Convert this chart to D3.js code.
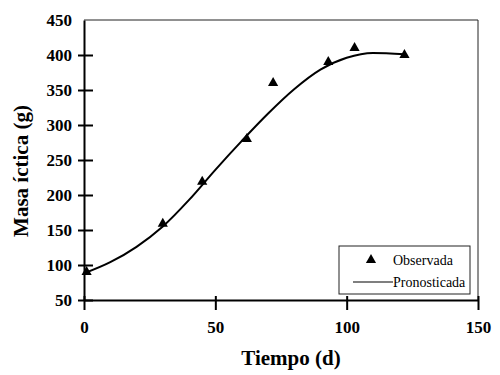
<!DOCTYPE html>
<html>
<head>
<meta charset="utf-8">
<script src="https://cdn.jsdelivr.net/npm/d3@7"></script>
<style>
  body { margin: 0; background: #fff; }
  svg { display: block; }
</style>
</head>
<body>
<div id="chart"></div>
<script>
// observed fish mass (Observada)
const obsDays = [1, 30, 45, 62, 72, 93, 103, 122];
const obsMass = [90, 159, 219, 280, 360, 390, 410, 400];

// predicted curve (Pronosticada)
const predDays = [0, 10, 20, 30, 40, 50, 60, 70, 80, 90, 100, 110, 122];
const predMass = [88, 104, 126, 155, 193, 236, 277, 316, 351, 379, 396, 403, 401];

const xTicks = [0, 50, 100, 150];
const yTicks = [50, 100, 150, 200, 250, 300, 350, 400, 450];

const W = 500, H = 375;
const plot = {left: 84, right: 478, top: 20, bottom: 300};

const svg = d3.select('#chart').append('svg')
    .attr('width', W)
    .attr('height', H);

const x = d3.scaleLinear().domain([0, 150]).range([plot.left, plot.right]);
const y = d3.scaleLinear().domain([50, 450]).range([plot.bottom, plot.top]);

const serif = '"Liberation Serif", "Times New Roman", serif';

// top and right frame lines (thin)
svg.append('path')
    .attr('d', `M${plot.left},${plot.top}H${plot.right}V${plot.bottom}`)
    .attr('fill', 'none')
    .attr('stroke', '#222')
    .attr('stroke-width', 1);

// y axis
const yAxis = svg.append('g')
    .attr('transform', `translate(${plot.left},0)`)
    .call(d3.axisLeft(y).tickValues(yTicks).tickSize(6).tickSizeOuter(0).tickPadding(6));
yAxis.selectAll('.tick line').attr('x1', 9).attr('x2', -6);
yAxis.selectAll('.tick').filter(d => d === 450).select('line').remove();

// x axis
const xAxis = svg.append('g')
    .attr('transform', `translate(0,${plot.bottom})`)
    .call(d3.axisBottom(x).tickValues(xTicks).tickSize(10).tickSizeOuter(0).tickPadding(10));
xAxis.selectAll('.tick line').attr('y1', -4).attr('y2', 10);

[yAxis, xAxis].forEach(g => {
  g.select('.domain').attr('stroke', '#000').attr('stroke-width', 2);
  g.selectAll('.tick line').attr('stroke', '#000').attr('stroke-width', 2);
  g.selectAll('.tick text')
      .attr('fill', '#000')
      .style('font-family', serif)
      .style('font-weight', 'bold')
      .style('font-size', '17px');
});
xAxis.selectAll('.tick text').attr('dy', '0.75em');

// axis titles
svg.append('text')
    .attr('transform', `translate(28,${(105 + 237) / 2}) rotate(-90)`)
    .attr('text-anchor', 'middle')
    .style('font-family', serif)
    .style('font-weight', 'bold')
    .style('font-size', '21px')
    .text('Masa íctica (g)');

svg.append('text')
    .attr('x', 291)
    .attr('y', 365)
    .attr('text-anchor', 'middle')
    .style('font-family', serif)
    .style('font-weight', 'bold')
    .style('font-size', '21px')
    .text('Tiempo (d)');

// predicted line
const pred = predDays.map((d, i) => ({d, m: predMass[i]}));
svg.append('path')
    .datum(pred)
    .attr('fill', 'none')
    .attr('stroke', '#000')
    .attr('stroke-width', 2)
    .attr('d', d3.line().x(p => x(p.d)).y(p => y(p.m)).curve(d3.curveMonotoneX));

// observed triangles
const tri = d3.symbol().type(d3.symbolTriangle).size(45);
const obs = obsDays.map((d, i) => ({d, m: obsMass[i]}));
svg.selectAll('.obs')
    .data(obs)
    .enter()
    .append('path')
    .attr('class', 'obs')
    .attr('transform', p => `translate(${x(p.d)},${y(p.m)})`)
    .attr('d', tri)
    .attr('fill', '#000');

// legend
const lg = svg.append('g');
lg.append('rect')
    .attr('x', 339).attr('y', 246)
    .attr('width', 131).attr('height', 48)
    .attr('fill', '#fff')
    .attr('stroke', '#222')
    .attr('stroke-width', 1);
lg.append('path')
    .attr('transform', 'translate(371,260)')
    .attr('d', tri)
    .attr('fill', '#000');
lg.append('text')
    .attr('x', 393).attr('y', 265)
    .style('font-family', serif)
    .style('font-size', '14px')
    .text('Observada');
lg.append('line')
    .attr('x1', 353).attr('x2', 393)
    .attr('y1', 282).attr('y2', 282)
    .attr('stroke', '#000')
    .attr('stroke-width', 1.2);
lg.append('text')
    .attr('x', 393).attr('y', 287)
    .style('font-family', serif)
    .style('font-size', '14px')
    .text('Pronosticada');
</script>
</body>
</html>
